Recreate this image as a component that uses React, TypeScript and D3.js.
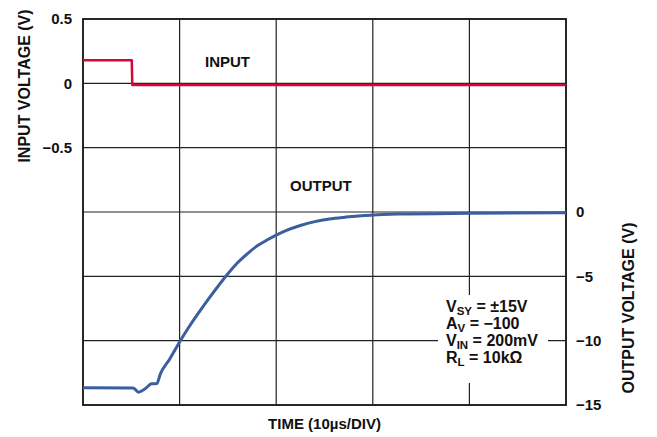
import React from "react";
import * as d3 from "d3";

const timeTicks = [0, 10, 20, 30, 40, 50];
const inputTicks = [0.5, 0, -0.5];
const inputTickLabels = ["0.5", "0", "\u22120.5"];
const outputTicks = [0, -5, -10, -15];
const outputTickLabels = ["0", "\u22125", "\u221210", "\u221215"];
const gridRows = [0.5, 0, -0.5, -1, -1.5, -2, -2.5];

const inputT = [0, 5.05, 5.1, 50];
const inputV = [0.18, 0.18, -0.012, -0.012];

const outputT = [0, 5.2, 5.75, 6.5, 7.1, 7.65, 8.0, 9.0, 10.0, 11.0, 12.0, 13.0, 14.0, 15.0, 16.0, 17.0, 18.0, 19.0, 20.0, 21.0, 22.5, 24.0, 25.5, 27.0, 28.5, 30.0, 32.6, 40, 50];
const outputV = [-13.65, -13.68, -14.0, -13.7, -13.35, -13.33, -12.6, -11.4, -10.1, -8.9, -7.8, -6.75, -5.75, -4.8, -3.95, -3.25, -2.65, -2.2, -1.8, -1.45, -1.05, -0.75, -0.55, -0.42, -0.32, -0.23, -0.16, -0.1, -0.06];

const W = 657, H = 437;
const L = 83, R = 566, T = 19, B = 405;

export default function App() {
  const x = d3.scaleLinear().domain([0, 50]).range([L, R]);
  const yIn = d3.scaleLinear().domain([0.5, -2.5]).range([T, B]);
  const yOut = d3.scaleLinear().domain([15, -15]).range([T, B]);

  const inLine = d3.line<number>().x((_, i) => x(inputT[i])).y((v) => yIn(v));
  const outLine = d3.line<number>().x((_, i) => x(outputT[i])).y((v) => yOut(v)).curve(d3.curveMonotoneX);

  const font = "'Liberation Sans', Arial, Helvetica, sans-serif";
  const grid = "#222";
  const fs = 15;
  const ft = 16;
  const sub = 11.5;

  return (
    <svg width={W} height={H} style={{ position: "absolute", left: 0, top: 0, background: "#fff" }} fontFamily={font} fontWeight="bold">
      <rect x={0} y={0} width={W} height={H} fill="#fff" />
      {timeTicks.slice(1, -1).map((t) => (
        <line key={"v" + t} x1={x(t)} x2={x(t)} y1={T} y2={B} stroke={grid} strokeWidth={1.2} />
      ))}
      {gridRows.slice(1, -1).map((v) => (
        <line key={"h" + v} x1={L} x2={R} y1={yIn(v)} y2={yIn(v)} stroke={grid} strokeWidth={1.2} />
      ))}
      <rect x={438} y={295} width={110} height={88} fill="#fff" />
      <rect x={L} y={T} width={R - L} height={B - T} fill="none" stroke="#111" strokeWidth={1.8} />

      <path d={inLine(inputV) || ""} fill="none" stroke="#d7063a" strokeWidth={2.5} strokeLinejoin="round" />
      <path d={outLine(outputV) || ""} fill="none" stroke="#3a5e9e" strokeWidth={3} strokeLinejoin="round" />

      {inputTicks.map((v, i) => (
        <text key={"il" + v} x={72} y={yIn(v)} dy="0.35em" textAnchor="end" fontSize={fs} fill="#111">
          {inputTickLabels[i]}
        </text>
      ))}
      {outputTicks.map((v, i) => (
        <text key={"ol" + v} x={576} y={yOut(v)} dy="0.35em" textAnchor="start" fontSize={fs} fill="#111">
          {outputTickLabels[i]}
        </text>
      ))}

      <text transform={`translate(24,86) rotate(-90)`} textAnchor="middle" dy="0.35em" fontSize={ft} fill="#111">
        INPUT VOLTAGE (V)
      </text>
      <text transform={`translate(628,308) rotate(-90)`} textAnchor="middle" dy="0.35em" fontSize={ft} fill="#111">
        OUTPUT VOLTAGE (V)
      </text>
      <text x={(L + R) / 2} y={424} textAnchor="middle" dy="0.35em" fontSize={fs} fill="#111">
        TIME (10µs/DIV)
      </text>

      <text x={205} y={62} dy="0.35em" fontSize={fs} fill="#111">INPUT</text>
      <text x={290} y={186} dy="0.35em" fontSize={fs} fill="#111">OUTPUT</text>

      <g fontSize={ft} fill="#111">
        <text x={446} y={312}>
          V<tspan fontSize={sub} dy={3}>SY</tspan>
          <tspan dy={-3}> = ±15V</tspan>
        </text>
        <text x={446} y={329}>
          A<tspan fontSize={sub} dy={3}>V</tspan>
          <tspan dy={-3}> = −100</tspan>
        </text>
        <text x={446} y={346}>
          V<tspan fontSize={sub} dy={3}>IN</tspan>
          <tspan dy={-3}> = 200mV</tspan>
        </text>
        <text x={446} y={363}>
          R<tspan fontSize={sub} dy={3}>L</tspan>
          <tspan dy={-3}> = 10kΩ</tspan>
        </text>
      </g>
    </svg>
  );
}
